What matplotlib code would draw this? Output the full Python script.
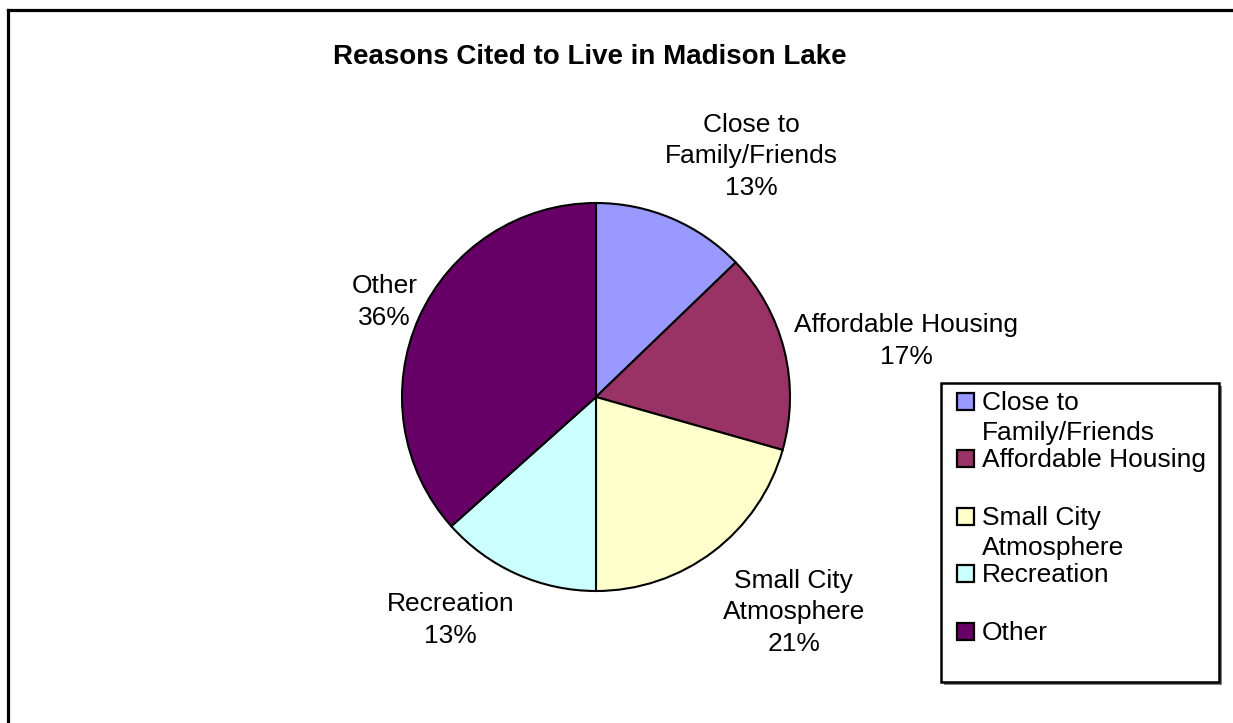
import matplotlib
matplotlib.use("Agg")
import matplotlib.pyplot as plt
from matplotlib.patches import Rectangle

plt.rcParams['font.family'] = ['Liberation Sans', 'DejaVu Sans']

labels = ['Close to\nFamily/Friends', 'Affordable Housing', 'Small City\nAtmosphere',
          'Recreation', 'Other']
values = [12.8, 16.6, 20.6, 13.4, 36.6]
shown_pct = [13, 17, 21, 13, 36]
colors = ['#9999FF', '#993366', '#FFFFCC', '#CCFFFF', '#660066']
title = 'Reasons Cited to Live in Madison Lake'

# label spots, in units of the pie radius (x right, y up)
label_pos = [(0.80, 1.24), (1.60, 0.29), (1.02, -1.11), (-0.75, -1.15), (-1.09, 0.49)]

W, H = 1233, 723
fig = plt.figure(figsize=(W / 100, H / 100), dpi=100)

# overlay in pixel coords for frame, title, legend
bg = fig.add_axes([0, 0, 1, 1])
bg.set_xlim(0, W)
bg.set_ylim(H, 0)
bg.axis('off')
bg.plot([8, W], [10, 10], color='black', lw=2.3, solid_capstyle='projecting')
bg.plot([8, 8], [10, H], color='black', lw=2.3, solid_capstyle='projecting')
bg.text(590, 57, title, fontsize=20, fontweight='bold', ha='center', va='center')

# pie
cx, cy, r = 596, 397, 194
ax = fig.add_axes([(cx - r) / W, (H - cy - r) / H, 2 * r / W, 2 * r / H])
ax.pie(values, colors=colors, startangle=90, counterclock=False,
       wedgeprops=dict(edgecolor='black', linewidth=1.5))
ax.set_xlim(-1, 1)
ax.set_ylim(-1, 1)
ax.set_aspect('auto')
for lab, p, (lx, ly) in zip(labels, shown_pct, label_pos):
    ax.text(lx, ly, f'{lab}\n{p}%', ha='center', va='center', fontsize=19,
            linespacing=1.4, clip_on=False)

# legend box drawn by hand
lx0, ly0, lx1, ly1 = 941, 383, 1219, 682
bg.add_patch(Rectangle((lx0 + 3, ly0 + 3), lx1 - lx0, ly1 - ly0, facecolor='#808080',
                       edgecolor='none', zorder=1))
bg.add_patch(Rectangle((lx0, ly0), lx1 - lx0, ly1 - ly0, facecolor='white',
                       edgecolor='black', lw=1.8, zorder=2))
slot = 57.5
for i, (lab, c) in enumerate(zip(labels, colors)):
    yc = 401 + i * slot
    bg.add_patch(Rectangle((957, yc - 8.5), 17, 17, facecolor=c, edgecolor='black',
                           lw=1.6, zorder=3))
    bg.text(982, yc - 10, lab, ha='left', va='top', fontsize=19, linespacing=1.3,
            zorder=4)

fig.savefig('out.png', dpi=100)
